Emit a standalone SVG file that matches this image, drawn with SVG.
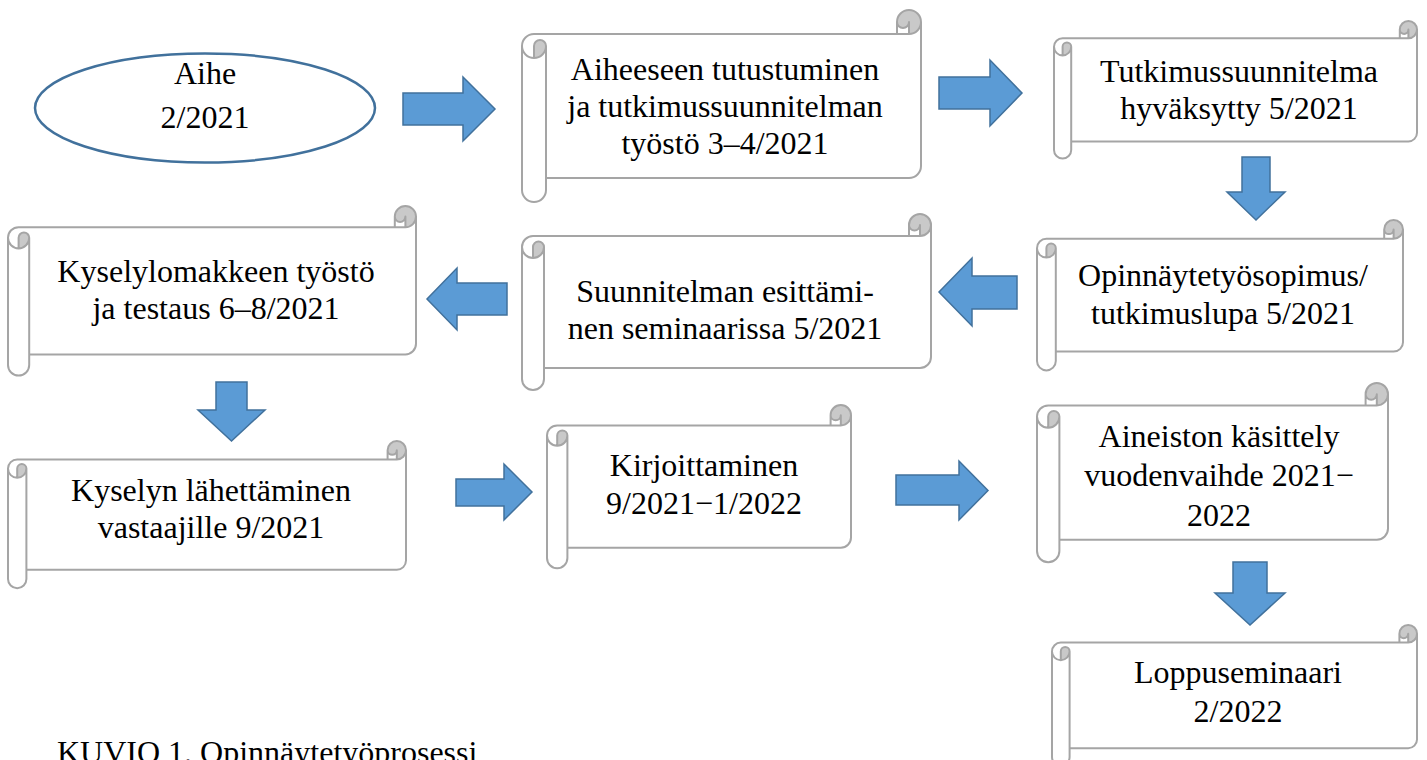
<svg xmlns="http://www.w3.org/2000/svg" width="1427" height="760" viewBox="0 0 1427 760">
<style>
.bg{fill:#ffffff;stroke:none}
.dk{fill:#c9c9c9;stroke:none}
.ln{fill:none;stroke:#a5a5a5;stroke-width:2;stroke-linejoin:round}
.ar{fill:#5b9bd5;stroke:#41719c;stroke-width:1.5;stroke-linejoin:miter}
.el{fill:#ffffff;stroke:#41719c;stroke-width:2.5}
text{font-family:"Liberation Serif","Times New Roman",serif;font-size:32px;fill:#000000;text-anchor:middle}
.cap{text-anchor:start}
</style>
<rect x="0" y="0" width="1427" height="760" fill="#ffffff"/>

<g id="connectors">
<polygon class="ar" points="403,93 463,93 463,77 495,109 463,141 463,125 403,125"/>
<polygon class="ar" points="939,77 990,77 990,60 1022,93 990,126 990,109 939,109"/>
<polygon class="ar" points="1242,157 1270,157 1270,192 1285,192 1256,220 1227,192 1242,192"/>
<polygon class="ar" points="1017,276 972,276 972,258 939,292 972,326 972,309 1017,309"/>
<polygon class="ar" points="507,283 457,283 457,268 427,299 457,330 457,315 507,315"/>
<polygon class="ar" points="216,382 247,382 247,410 265,410 231.5,441 198,410 216,410"/>
<polygon class="ar" points="456,479 504,479 504,464 532,492 504,520 504,506 456,506"/>
<polygon class="ar" points="896,475 959,475 959,461 988,490.5 959,520 959,505 896,505"/>
<polygon class="ar" points="1233,562 1267,562 1267,593 1285,593 1250,625 1215,593 1233,593"/>
</g>

<g id="aihe">
<ellipse class="el" cx="205" cy="108" rx="170" ry="54.5"/>
<text x="205" y="84">Aihe</text>
<text x="205" y="128">2/2021</text>
</g>

<g id="aiheeseen">
<g transform="translate(522,10)">
<path class="bg" d="M0 36 A12 12 0 0 1 12 24 L375 24 L375 12 A12 12 0 0 1 399 12 L399 156 A12 12 0 0 1 387 168 L24 168 L24 180 A12 12 0 0 1 0 180 Z"/>
<path class="dk" d="M12 48 A12 12 0 0 0 24 36 A6 6 0 0 0 12 36 Z M387 24 A12 12 0 1 0 375 12 A6 6 0 0 0 387 12 Z"/>
<path class="ln" d="M0 36 A12 12 0 0 1 12 24 L375 24 L375 12 A12 12 0 0 1 399 12 L399 156 A12 12 0 0 1 387 168 L24 168 L24 180 A12 12 0 0 1 0 180 Z M375 24 L387 24 A12 12 0 0 0 399 12 M387 24 L387 12 A6 6 0 0 1 375 12 M12 48 L12 36 A6 6 0 0 1 24 36 A12 12 0 0 1 0 36 M24 36 L24 168"/>
</g>
<text x="725" y="80">Aiheeseen tutustuminen</text>
<text x="725" y="117">ja tutkimussuunnitelman</text>
<text x="725" y="154">työstö 3–4/2021</text>
</g>

<g id="tutkimussuunnitelma">
<g transform="translate(1054,21)">
<path class="bg" d="M0 25.8 A8.6 8.6 0 0 1 8.6 17.2 L345.8 17.2 L345.8 8.6 A8.6 8.6 0 0 1 363 8.6 L363 111.8 A8.6 8.6 0 0 1 354.4 120.4 L17.2 120.4 L17.2 129 A8.6 8.6 0 0 1 0 129 Z"/>
<path class="dk" d="M8.6 34.4 A8.6 8.6 0 0 0 17.2 25.8 A4.3 4.3 0 0 0 8.6 25.8 Z M354.4 17.2 A8.6 8.6 0 1 0 345.8 8.6 A4.3 4.3 0 0 0 354.4 8.6 Z"/>
<path class="ln" d="M0 25.8 A8.6 8.6 0 0 1 8.6 17.2 L345.8 17.2 L345.8 8.6 A8.6 8.6 0 0 1 363 8.6 L363 111.8 A8.6 8.6 0 0 1 354.4 120.4 L17.2 120.4 L17.2 129 A8.6 8.6 0 0 1 0 129 Z M345.8 17.2 L354.4 17.2 A8.6 8.6 0 0 0 363 8.6 M354.4 17.2 L354.4 8.6 A4.3 4.3 0 0 1 345.8 8.6 M8.6 34.4 L8.6 25.8 A4.3 4.3 0 0 1 17.2 25.8 A8.6 8.6 0 0 1 0 25.8 M17.2 25.8 L17.2 120.4"/>
</g>
<text x="1239" y="82">Tutkimussuunnitelma</text>
<text x="1239" y="119">hyväksytty 5/2021</text>
</g>

<g id="opinnaytetyosopimus">
<g transform="translate(1037,220)">
<path class="bg" d="M0 28.2 A9.4 9.4 0 0 1 9.4 18.8 L347.2 18.8 L347.2 9.4 A9.4 9.4 0 0 1 366 9.4 L366 122.2 A9.4 9.4 0 0 1 356.6 131.6 L18.8 131.6 L18.8 141 A9.4 9.4 0 0 1 0 141 Z"/>
<path class="dk" d="M9.4 37.6 A9.4 9.4 0 0 0 18.8 28.2 A4.7 4.7 0 0 0 9.4 28.2 Z M356.6 18.8 A9.4 9.4 0 1 0 347.2 9.4 A4.7 4.7 0 0 0 356.6 9.4 Z"/>
<path class="ln" d="M0 28.2 A9.4 9.4 0 0 1 9.4 18.8 L347.2 18.8 L347.2 9.4 A9.4 9.4 0 0 1 366 9.4 L366 122.2 A9.4 9.4 0 0 1 356.6 131.6 L18.8 131.6 L18.8 141 A9.4 9.4 0 0 1 0 141 Z M347.2 18.8 L356.6 18.8 A9.4 9.4 0 0 0 366 9.4 M356.6 18.8 L356.6 9.4 A4.7 4.7 0 0 1 347.2 9.4 M9.4 37.6 L9.4 28.2 A4.7 4.7 0 0 1 18.8 28.2 A9.4 9.4 0 0 1 0 28.2 M18.8 28.2 L18.8 131.6"/>
</g>
<text x="1223" y="286">Opinnäytetyösopimus/</text>
<text x="1223" y="324">tutkimuslupa 5/2021</text>
</g>

<g id="suunnitelman-esittaminen">
<g transform="translate(522,214)">
<path class="bg" d="M0 33 A11 11 0 0 1 11 22 L387 22 L387 11 A11 11 0 0 1 409 11 L409 143 A11 11 0 0 1 398 154 L22 154 L22 165 A11 11 0 0 1 0 165 Z"/>
<path class="dk" d="M11 44 A11 11 0 0 0 22 33 A5.5 5.5 0 0 0 11 33 Z M398 22 A11 11 0 1 0 387 11 A5.5 5.5 0 0 0 398 11 Z"/>
<path class="ln" d="M0 33 A11 11 0 0 1 11 22 L387 22 L387 11 A11 11 0 0 1 409 11 L409 143 A11 11 0 0 1 398 154 L22 154 L22 165 A11 11 0 0 1 0 165 Z M387 22 L398 22 A11 11 0 0 0 409 11 M398 22 L398 11 A5.5 5.5 0 0 1 387 11 M11 44 L11 33 A5.5 5.5 0 0 1 22 33 A11 11 0 0 1 0 33 M22 33 L22 154"/>
</g>
<text x="725" y="302">Suunnitelman esittämi-</text>
<text x="725" y="339">nen seminaarissa 5/2021</text>
</g>

<g id="kyselylomake">
<g transform="translate(8,206)">
<path class="bg" d="M0 31.8 A10.6 10.6 0 0 1 10.6 21.2 L386.8 21.2 L386.8 10.6 A10.6 10.6 0 0 1 408 10.6 L408 137.8 A10.6 10.6 0 0 1 397.4 148.4 L21.2 148.4 L21.2 159 A10.6 10.6 0 0 1 0 159 Z"/>
<path class="dk" d="M10.6 42.4 A10.6 10.6 0 0 0 21.2 31.8 A5.3 5.3 0 0 0 10.6 31.8 Z M397.4 21.2 A10.6 10.6 0 1 0 386.8 10.6 A5.3 5.3 0 0 0 397.4 10.6 Z"/>
<path class="ln" d="M0 31.8 A10.6 10.6 0 0 1 10.6 21.2 L386.8 21.2 L386.8 10.6 A10.6 10.6 0 0 1 408 10.6 L408 137.8 A10.6 10.6 0 0 1 397.4 148.4 L21.2 148.4 L21.2 159 A10.6 10.6 0 0 1 0 159 Z M386.8 21.2 L397.4 21.2 A10.6 10.6 0 0 0 408 10.6 M397.4 21.2 L397.4 10.6 A5.3 5.3 0 0 1 386.8 10.6 M10.6 42.4 L10.6 31.8 A5.3 5.3 0 0 1 21.2 31.8 A10.6 10.6 0 0 1 0 31.8 M21.2 31.8 L21.2 148.4"/>
</g>
<text x="216" y="282">Kyselylomakkeen työstö</text>
<text x="216" y="319">ja testaus 6–8/2021</text>
</g>

<g id="kyselyn-lahettaminen">
<g transform="translate(8,441)">
<path class="bg" d="M0 27.6 A9.2 9.2 0 0 1 9.2 18.4 L379.6 18.4 L379.6 9.2 A9.2 9.2 0 0 1 398 9.2 L398 119.6 A9.2 9.2 0 0 1 388.8 128.8 L18.4 128.8 L18.4 138 A9.2 9.2 0 0 1 0 138 Z"/>
<path class="dk" d="M9.2 36.8 A9.2 9.2 0 0 0 18.4 27.6 A4.6 4.6 0 0 0 9.2 27.6 Z M388.8 18.4 A9.2 9.2 0 1 0 379.6 9.2 A4.6 4.6 0 0 0 388.8 9.2 Z"/>
<path class="ln" d="M0 27.6 A9.2 9.2 0 0 1 9.2 18.4 L379.6 18.4 L379.6 9.2 A9.2 9.2 0 0 1 398 9.2 L398 119.6 A9.2 9.2 0 0 1 388.8 128.8 L18.4 128.8 L18.4 138 A9.2 9.2 0 0 1 0 138 Z M379.6 18.4 L388.8 18.4 A9.2 9.2 0 0 0 398 9.2 M388.8 18.4 L388.8 9.2 A4.6 4.6 0 0 1 379.6 9.2 M9.2 36.8 L9.2 27.6 A4.6 4.6 0 0 1 18.4 27.6 A9.2 9.2 0 0 1 0 27.6 M18.4 27.6 L18.4 128.8"/>
</g>
<text x="211" y="501">Kyselyn lähettäminen</text>
<text x="211" y="538">vastaajille 9/2021</text>
</g>

<g id="kirjoittaminen">
<g transform="translate(547,405)">
<path class="bg" d="M0 30.6 A10.2 10.2 0 0 1 10.2 20.4 L283.6 20.4 L283.6 10.2 A10.2 10.2 0 0 1 304 10.2 L304 132.6 A10.2 10.2 0 0 1 293.8 142.8 L20.4 142.8 L20.4 153 A10.2 10.2 0 0 1 0 153 Z"/>
<path class="dk" d="M10.2 40.8 A10.2 10.2 0 0 0 20.4 30.6 A5.1 5.1 0 0 0 10.2 30.6 Z M293.8 20.4 A10.2 10.2 0 1 0 283.6 10.2 A5.1 5.1 0 0 0 293.8 10.2 Z"/>
<path class="ln" d="M0 30.6 A10.2 10.2 0 0 1 10.2 20.4 L283.6 20.4 L283.6 10.2 A10.2 10.2 0 0 1 304 10.2 L304 132.6 A10.2 10.2 0 0 1 293.8 142.8 L20.4 142.8 L20.4 153 A10.2 10.2 0 0 1 0 153 Z M283.6 20.4 L293.8 20.4 A10.2 10.2 0 0 0 304 10.2 M293.8 20.4 L293.8 10.2 A5.1 5.1 0 0 1 283.6 10.2 M10.2 40.8 L10.2 30.6 A5.1 5.1 0 0 1 20.4 30.6 A10.2 10.2 0 0 1 0 30.6 M20.4 30.6 L20.4 142.8"/>
</g>
<text x="704" y="476">Kirjoittaminen</text>
<text x="704" y="514">9/2021−1/2022</text>
</g>

<g id="aineiston-kasittely">
<g transform="translate(1037,383)">
<path class="bg" d="M0 33.6 A11.2 11.2 0 0 1 11.2 22.4 L328.6 22.4 L328.6 11.2 A11.2 11.2 0 0 1 351 11.2 L351 145.6 A11.2 11.2 0 0 1 339.8 156.8 L22.4 156.8 L22.4 168 A11.2 11.2 0 0 1 0 168 Z"/>
<path class="dk" d="M11.2 44.8 A11.2 11.2 0 0 0 22.4 33.6 A5.6 5.6 0 0 0 11.2 33.6 Z M339.8 22.4 A11.2 11.2 0 1 0 328.6 11.2 A5.6 5.6 0 0 0 339.8 11.2 Z"/>
<path class="ln" d="M0 33.6 A11.2 11.2 0 0 1 11.2 22.4 L328.6 22.4 L328.6 11.2 A11.2 11.2 0 0 1 351 11.2 L351 145.6 A11.2 11.2 0 0 1 339.8 156.8 L22.4 156.8 L22.4 168 A11.2 11.2 0 0 1 0 168 Z M328.6 22.4 L339.8 22.4 A11.2 11.2 0 0 0 351 11.2 M339.8 22.4 L339.8 11.2 A5.6 5.6 0 0 1 328.6 11.2 M11.2 44.8 L11.2 33.6 A5.6 5.6 0 0 1 22.4 33.6 A11.2 11.2 0 0 1 0 33.6 M22.4 33.6 L22.4 156.8"/>
</g>
<text x="1219" y="447">Aineiston käsittely</text>
<text x="1219" y="486">vuodenvaihde 2021−</text>
<text x="1219" y="526">2022</text>
</g>

<g id="loppuseminaari">
<g transform="translate(1052,625)">
<path class="bg" d="M0 26.4 A8.8 8.8 0 0 1 8.8 17.6 L347.4 17.6 L347.4 8.8 A8.8 8.8 0 0 1 365 8.8 L365 114.4 A8.8 8.8 0 0 1 356.2 123.2 L17.6 123.2 L17.6 132 A8.8 8.8 0 0 1 0 132 Z"/>
<path class="dk" d="M8.8 35.2 A8.8 8.8 0 0 0 17.6 26.4 A4.4 4.4 0 0 0 8.8 26.4 Z M356.2 17.6 A8.8 8.8 0 1 0 347.4 8.8 A4.4 4.4 0 0 0 356.2 8.8 Z"/>
<path class="ln" d="M0 26.4 A8.8 8.8 0 0 1 8.8 17.6 L347.4 17.6 L347.4 8.8 A8.8 8.8 0 0 1 365 8.8 L365 114.4 A8.8 8.8 0 0 1 356.2 123.2 L17.6 123.2 L17.6 132 A8.8 8.8 0 0 1 0 132 Z M347.4 17.6 L356.2 17.6 A8.8 8.8 0 0 0 365 8.8 M356.2 17.6 L356.2 8.8 A4.4 4.4 0 0 1 347.4 8.8 M8.8 35.2 L8.8 26.4 A4.4 4.4 0 0 1 17.6 26.4 A8.8 8.8 0 0 1 0 26.4 M17.6 26.4 L17.6 123.2"/>
</g>
<text x="1238" y="683">Loppuseminaari</text>
<text x="1238" y="722">2/2022</text>
</g>

<text class="cap" x="57" y="763">KUVIO 1. Opinnäytetyöprosessi</text>
</svg>
